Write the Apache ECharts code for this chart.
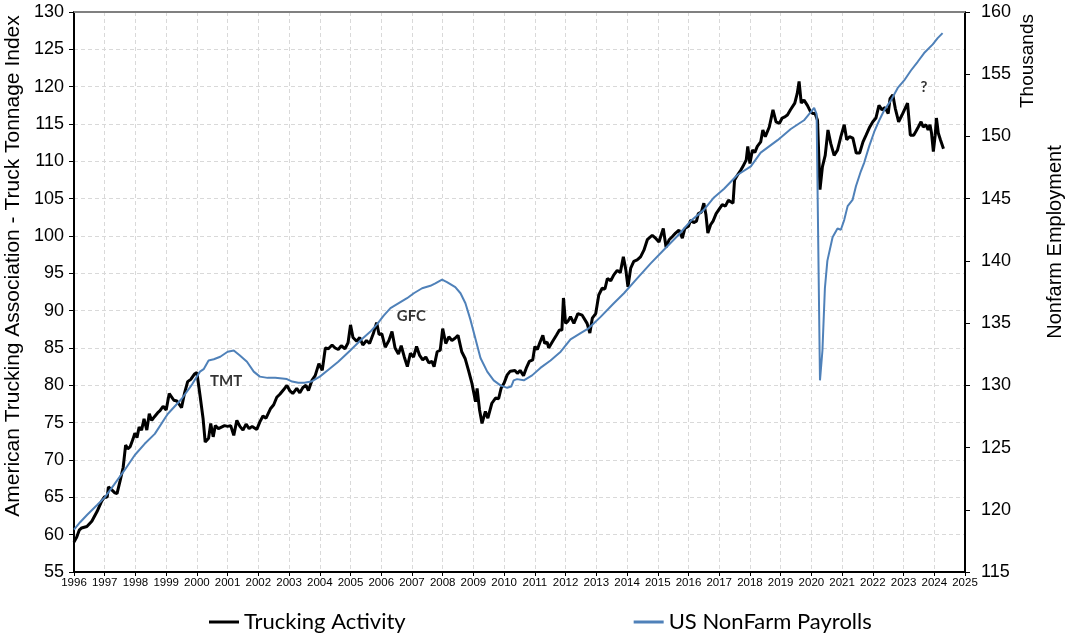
<!DOCTYPE html>
<html>
<head>
<meta charset="utf-8">
<script src="https://cdn.jsdelivr.net/npm/echarts@6/dist/echarts.min.js"></script>
<style>
html,body{margin:0;padding:0;background:#fff;}
#chart{width:1068px;height:635px;}
</style>
</head>
<body>
<div id="chart"></div>
<script>
// ---- Data ----
const yearTicks = [1996,1997,1998,1999,2000,2001,2002,2003,2004,2005,2006,2007,2008,2009,2010,2011,2012,2013,2014,2015,2016,2017,2018,2019,2020,2021,2022,2023,2024,2025];

const truckDates = [
1996.00,1996.08,1996.17,1996.25,1996.42,1996.58,1996.75,1996.90,1997.00,1997.08,1997.12,1997.23,1997.33,1997.40,1997.50,1997.60,1997.68,1997.75,1997.83,1997.92,1997.98,
1998.05,1998.12,1998.20,1998.28,1998.37,1998.45,1998.53,1998.62,1998.72,1998.80,1998.90,1999.00,1999.10,1999.25,1999.35,1999.50,1999.60,1999.70,1999.80,1999.92,
2000.00,2000.10,2000.20,2000.27,2000.38,2000.45,2000.53,2000.60,2000.70,2000.80,2000.90,2001.00,2001.10,2001.20,2001.30,2001.40,2001.50,2001.60,2001.70,2001.80,2001.95,
2002.05,2002.15,2002.25,2002.40,2002.50,2002.60,2002.70,2002.82,2002.93,2003.02,2003.12,2003.25,2003.35,2003.45,2003.55,2003.63,2003.75,2003.85,2003.97,
2004.08,2004.18,2004.28,2004.40,2004.50,2004.60,2004.70,2004.82,2004.92,2005.00,2005.08,2005.20,2005.30,2005.40,2005.52,2005.62,2005.74,2005.85,2005.93,
2006.02,2006.13,2006.25,2006.35,2006.45,2006.56,2006.65,2006.75,2006.85,2006.95,2007.05,2007.15,2007.25,2007.35,2007.45,2007.55,2007.65,2007.72,2007.82,2007.92,
2008.00,2008.10,2008.20,2008.30,2008.40,2008.50,2008.62,2008.73,2008.84,2008.95,2009.07,2009.12,2009.20,2009.28,2009.39,2009.47,2009.60,2009.72,2009.82,2009.90,
2010.00,2010.10,2010.20,2010.35,2010.43,2010.52,2010.63,2010.72,2010.82,2010.93,2011.00,2011.08,2011.17,2011.26,2011.32,2011.40,2011.45,2011.58,2011.70,2011.80,2011.88,2011.93,
2012.00,2012.08,2012.16,2012.27,2012.40,2012.54,2012.70,2012.79,2012.87,2012.98,2013.08,2013.19,2013.28,2013.36,2013.47,2013.57,2013.68,2013.78,2013.88,2013.96,
2014.03,2014.12,2014.22,2014.33,2014.44,2014.55,2014.66,2014.82,2014.93,2015.04,2015.10,2015.18,2015.27,2015.37,2015.47,2015.58,2015.69,2015.80,2015.88,
2016.00,2016.07,2016.17,2016.26,2016.32,2016.42,2016.50,2016.57,2016.63,2016.72,2016.80,2016.90,2017.00,2017.10,2017.20,2017.30,2017.36,2017.45,2017.50,2017.60,2017.70,2017.77,2017.88,2017.93,
2018.00,2018.08,2018.16,2018.24,2018.35,2018.42,2018.50,2018.63,2018.75,2018.85,2018.96,2019.05,2019.15,2019.22,2019.32,2019.38,2019.46,2019.54,2019.60,2019.67,2019.76,2019.87,2019.98,
2020.05,2020.12,2020.20,2020.28,2020.36,2020.45,2020.54,2020.63,2020.74,2020.85,2020.96,2021.07,2021.15,2021.24,2021.35,2021.46,2021.57,2021.68,2021.78,2021.90,
2022.00,2022.10,2022.20,2022.30,2022.40,2022.50,2022.56,2022.65,2022.73,2022.84,2022.95,2023.05,2023.13,2023.22,2023.33,2023.40,2023.48,2023.57,2023.64,2023.73,2023.80,2023.86,2023.91,2023.97,
2024.03,2024.07,2024.13,2024.20,2024.30];

const truckValues = [
59.0,59.6,60.6,60.9,61.1,61.8,63.1,64.5,65.1,65.0,66.4,66.0,65.6,65.5,67.2,69.0,72.0,71.5,71.8,72.8,73.6,
73.0,74.4,74.0,75.5,74.0,76.2,75.3,75.8,76.3,76.6,77.2,76.7,78.9,78.0,77.9,77.0,79.0,80.5,80.8,81.5,
81.7,78.7,75.6,72.4,72.9,74.9,73.1,74.6,74.2,74.4,74.6,74.5,74.6,73.3,75.3,74.5,74.0,74.8,74.2,74.5,74.1,
75.1,75.9,75.6,76.9,77.4,78.4,78.8,79.4,80.0,79.3,78.9,79.6,79.0,79.7,80.0,79.3,80.7,81.3,82.9,
82.0,85.0,84.9,85.4,85.0,84.8,85.3,84.9,85.7,88.1,86.4,85.9,86.4,85.4,86.0,85.6,86.9,88.4,86.8,
86.9,85.1,86.0,87.2,85.0,84.2,85.3,83.8,82.5,84.3,83.8,85.2,84.0,83.4,83.8,83.0,83.2,82.5,84.5,84.7,
87.6,85.6,86.5,86.0,86.3,86.7,84.5,83.6,82.0,80.3,77.8,79.6,76.7,74.9,76.5,75.6,77.6,78.3,78.2,79.6,
80.3,81.4,81.9,82.0,81.6,82.0,81.3,82.3,83.2,83.4,85.2,84.8,85.8,86.7,85.6,85.8,85.0,85.9,86.7,87.4,87.4,91.7,
88.3,88.6,89.2,88.3,89.6,89.4,88.3,87.0,89.0,89.6,92.1,93.0,92.9,94.3,94.0,94.8,95.4,95.1,97.2,95.5,
93.2,95.7,96.6,96.8,97.2,98.1,99.5,100.1,99.7,99.2,100.0,101.0,98.5,99.5,99.9,100.4,100.8,99.7,101.0,
101.3,102.1,101.8,102.0,103.0,103.2,104.4,102.8,100.4,101.5,102.0,103.0,103.6,104.2,104.0,104.8,105.0,104.4,107.5,108.2,108.8,109.3,110.2,112.0,
109.7,111.5,111.2,112.0,112.6,114.2,113.3,114.6,116.9,115.3,115.1,115.8,116.0,116.2,116.9,116.7,117.8,119.1,120.7,117.8,118.2,117.5,116.6,
116.4,116.4,115.5,106.2,109.3,110.8,114.2,112.4,110.8,111.5,113.3,114.9,112.9,113.3,113.1,111.1,111.1,112.6,113.5,114.6,
115.3,115.8,117.5,116.9,117.2,116.4,118.4,118.9,117.1,115.3,116.2,117.1,117.8,113.5,113.5,114.0,114.6,115.3,114.6,114.9,114.2,114.9,113.8,111.3,
113.5,115.8,113.8,112.9,111.7];

const payrollDates = [
1996.00,1996.20,1996.43,1996.76,1997.00,1997.30,1997.65,1997.98,1998.30,1998.63,1999.05,1999.50,1999.85,
2000.10,2000.22,2000.38,2000.55,2000.76,2001.00,2001.20,2001.40,2001.63,2001.85,2002.05,2002.30,2002.55,2002.93,
2003.10,2003.30,2003.50,2003.72,2004.00,2004.30,2004.60,2004.99,2005.32,2005.64,2005.86,2006.08,2006.30,2006.57,2006.84,
2007.06,2007.33,2007.60,2007.76,2007.98,2008.14,2008.41,2008.58,2008.74,2008.90,2009.07,2009.23,2009.45,2009.66,2009.88,
2010.10,2010.23,2010.31,2010.42,2010.64,2010.91,2011.18,2011.51,2011.84,2012.16,2012.49,2012.76,2013.14,2013.57,2013.90,
2014.33,2014.77,2015.20,2015.64,2016.07,2016.50,2016.83,2017.16,2017.59,2018.03,2018.35,2018.90,2019.33,2019.76,2020.09,2020.17,
2020.28,2020.36,2020.44,2020.52,2020.69,2020.85,2020.96,2021.07,2021.18,2021.34,2021.45,2021.61,2021.72,2021.88,
2022.05,2022.21,2022.37,2022.59,2022.81,2023.02,2023.24,2023.46,2023.67,2023.95,2024.11,2024.27];

const payrollValues = [
118.4,119.0,119.6,120.4,121.0,122.0,123.2,124.4,125.3,126.1,127.7,128.9,130.1,
131.1,131.3,132.0,132.1,132.3,132.7,132.8,132.4,131.9,131.1,130.7,130.6,130.6,130.5,
130.3,130.2,130.2,130.3,130.7,131.3,131.9,132.8,133.6,134.3,134.9,135.6,136.2,136.6,137.0,
137.4,137.8,138.0,138.2,138.5,138.3,137.9,137.4,136.6,135.3,133.7,132.2,131.1,130.4,130.0,
129.8,129.9,130.4,130.5,130.4,130.8,131.4,132.0,132.7,133.7,134.2,134.6,135.5,136.6,137.4,
138.6,139.8,140.9,142.0,143.2,144.1,145.1,145.8,146.9,147.6,148.7,149.7,150.6,151.3,152.3,151.8,
130.4,132.8,137.8,140.0,141.9,142.6,142.5,143.3,144.4,144.9,146.0,147.2,147.9,149.2,
150.4,151.3,152.1,152.9,153.9,154.5,155.3,156.0,156.7,157.4,157.9,158.3];

const annotationTexts = ['TMT','GFC','?'];
const annotationX = [2000.95, 2006.98, 2023.66];
const annotationY = [80.6, 89.2, 120.0];

// ---- Chart ----
const chart = echarts.init(document.getElementById('chart'), null, {renderer:'canvas'});
const truckData = truckDates.map((d,i)=>[d, truckValues[i]]);
const payrollData = payrollDates.map((d,i)=>[d, payrollValues[i]]);
const annData = annotationTexts.map((t,i)=>[annotationX[i], annotationY[i], t]);

const gridDash = {type:[4,3], color:'#d9d9d9', width:1};
const titleFont = '"Liberation Sans", Arial, sans-serif';

chart.setOption({
  animation:false,
  backgroundColor:'#ffffff',
  textStyle:{fontFamily:'Liberation Sans, Arial, sans-serif'},
  grid:{left:74, right:103, top:12, bottom:63, show:false, containLabel:false},
  legend:{
    data:['Trucking Activity','US NonFarm Payrolls'],
    left:204, top:606,
    itemWidth:30, itemHeight:3, itemGap:228, icon:'rect',
    textStyle:{fontFamily:'Lato, sans-serif', fontSize:22, color:'#000'}
  },
  xAxis:{
    type:'value', min:1996, max:2025, interval:1,
    axisLine:{show:true, lineStyle:{color:'#000', width:2}},
    axisTick:{show:true, length:4, lineStyle:{color:'#000', width:1}},
    axisLabel:{fontSize:11.5, color:'#000', margin:5, formatter:v=>String(Math.round(v)), showMinLabel:true, showMaxLabel:true},
    splitLine:{show:true, lineStyle:gridDash}
  },
  yAxis:[
    {
      type:'value', min:55, max:130, interval:5, position:'left',
      axisLine:{show:true, lineStyle:{color:'#000', width:2}},
      axisTick:{show:true, length:5, lineStyle:{color:'#000'}},
      axisLabel:{fontSize:18, color:'#000', margin:10},
      splitLine:{show:true, lineStyle:gridDash}
    },
    {
      type:'value', min:115, max:160, interval:5, position:'right',
      axisLine:{show:true, lineStyle:{color:'#000', width:2}},
      axisTick:{show:true, length:5, lineStyle:{color:'#000'}},
      axisLabel:{fontSize:18, color:'#000', margin:16},
      splitLine:{show:false}
    }
  ],
  graphic:[
    {type:'text', x:13, y:266, rotation:Math.PI/2, style:{text:'American Trucking Association - Truck Tonnage Index', font:'21px ' + titleFont, fill:'#000', align:'center', verticalAlign:'middle'}},
    {type:'text', x:1028, y:61, rotation:Math.PI/2, style:{text:'Thousands', font:'19px ' + titleFont, fill:'#000', align:'center', verticalAlign:'middle'}},
    {type:'text', x:1055, y:242, rotation:Math.PI/2, style:{text:'Nonfarm Employment', font:'20px ' + titleFont, fill:'#000', align:'center', verticalAlign:'middle'}}
  ],
  series:[
    {
      name:'Trucking Activity', type:'line', yAxisIndex:0, data:truckData,
      showSymbol:false, symbol:'none', lineStyle:{color:'#000', width:3}, itemStyle:{color:'#000'}, z:3,
      markLine:{silent:true, symbol:'none', label:{show:false}, lineStyle:{type:'solid', color:'#808080', width:2}, data:[{yAxis:130}]}
    },
    {
      name:'US NonFarm Payrolls', type:'line', yAxisIndex:1, data:payrollData,
      showSymbol:false, symbol:'none', lineStyle:{color:'#4f81b9', width:2}, itemStyle:{color:'#4f81b9'}, z:4
    },
    {
      name:'annotations', type:'scatter', yAxisIndex:0, data:annData, symbolSize:0, silent:true, z:5,
      label:{show:true, position:'inside', formatter:p=>p.data[2], fontFamily:'Lato, sans-serif', fontWeight:'bold', fontSize:15, color:'#000'}
    }
  ]
});
</script>
</body>
</html>
